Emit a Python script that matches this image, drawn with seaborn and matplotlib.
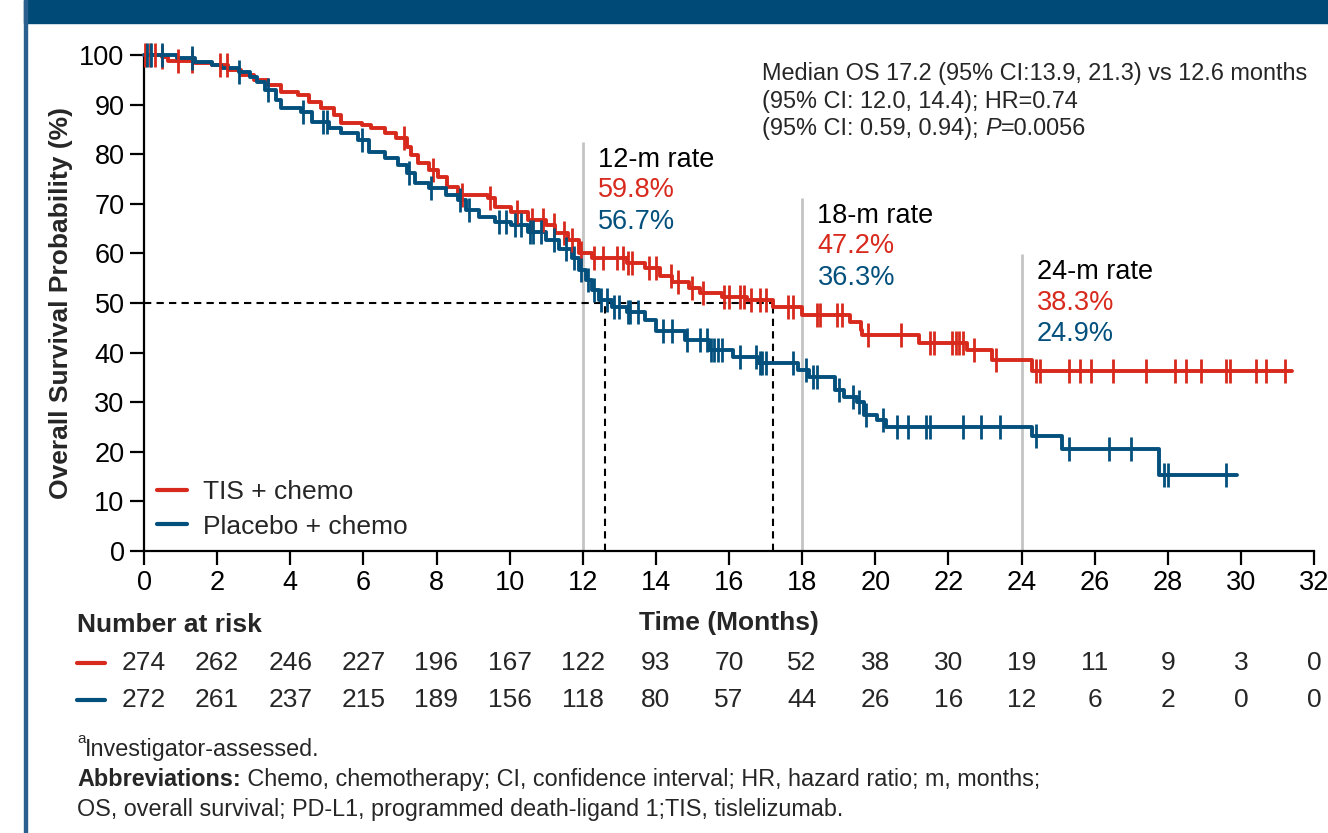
import numpy as np
import pandas as pd
import matplotlib
matplotlib.use("Agg")
import matplotlib.pyplot as plt
import matplotlib.transforms as mtransforms
from matplotlib.patches import Rectangle
from matplotlib.lines import Line2D
import seaborn as sns

# ---------------------------
# data
# ---------------------------
tis_time = [0, 0.5, 0.65, 1.4, 1.85, 2.3, 2.65, 3.0, 3.4, 3.75, 4.2, 4.5, 4.85, 5.2, 5.4,
            5.95, 6.2, 6.6, 6.9, 7.2, 7.3, 7.5, 7.8, 8.05, 8.3, 8.6, 9.4, 9.6, 10.05, 10.5,
            11.0, 11.25, 11.6, 11.9, 12.25, 13.2, 13.7, 14.1, 14.45, 14.9, 15.2, 15.8, 16.5,
            17.2, 18.0, 19.3, 19.6, 19.65, 21.2, 22.5, 23.2, 24.3]
tis_surv = [100, 99.6, 98.8, 98.4, 98.0, 97.0, 96.0, 95.0, 94.0, 92.5, 92.0, 90.5, 89.3, 87.9, 86.3,
            85.9, 85.3, 84.3, 83.3, 81.5, 79.8, 78.2, 76.8, 75.4, 73.4, 71.8, 71.2, 69.4, 68.3, 66.7,
            65.7, 64.1, 62.7, 60.0, 59.0, 58.0, 57.0, 55.4, 54.2, 53.0, 52.0, 51.3, 50.6,
            49.2, 47.6, 46.2, 44.6, 43.5, 42.0, 40.5, 38.5, 36.3]
tis_end = 31.4
tis_censor = [0.03, 0.16, 0.3, 0.5, 0.93, 1.3, 2.08, 2.27, 7.1, 7.9, 8.7, 9.45, 10.2, 10.6, 10.9,
              11.2, 11.5, 11.7, 11.95, 12.3, 12.55, 12.95, 13.1, 13.25, 13.35, 13.8, 14.0, 14.4,
              14.6, 15.0, 15.3, 15.85, 16.0, 16.3, 16.4, 16.6, 16.85, 17.0, 17.6, 17.75, 18.4,
              18.5, 18.95, 19.1, 19.8, 20.7, 21.5, 21.6, 22.1, 22.2, 22.3, 22.4, 22.7, 23.3,
              24.4, 24.5, 25.3, 25.6, 25.9, 26.5, 27.4, 28.2, 28.5, 28.9, 29.6, 29.7, 30.4,
              30.7, 31.2]

pbo_time = [0, 0.9, 1.4, 1.85, 2.1, 2.6, 2.9, 3.1, 3.3, 3.6, 3.75, 4.3, 4.6, 5.05, 5.4, 5.85,
            6.15, 6.6, 6.95, 7.2, 7.4, 7.8, 8.25, 8.6, 8.8, 9.15, 9.6, 10.05, 10.5, 11.0, 11.35,
            11.7, 11.9, 12.1, 12.25, 12.45, 12.8, 13.2, 13.7, 14.0, 14.8, 15.45, 16.1, 16.8,
            17.9, 18.2, 18.9, 19.15, 19.5, 19.7, 20.05, 20.3, 24.3, 25.1, 27.75]
pbo_surv = [100, 99.4, 98.6, 98.0, 97.4, 96.6, 95.6, 94.6, 93.0, 90.9, 89.3, 88.5, 86.5, 85.3,
            84.3, 82.9, 80.4, 79.2, 77.8, 76.2, 74.2, 73.2, 71.8, 70.8, 68.8, 67.3, 66.3, 65.7,
            64.3, 62.7, 60.8, 59.0, 56.7, 54.6, 52.6, 50.6, 49.2, 48.2, 46.6, 44.4, 42.5, 40.5,
            39.1, 37.9, 36.5, 35.0, 32.5, 31.0, 30.0, 27.4, 26.4, 25.0, 23.2, 20.6, 15.3]
pbo_end = 29.9
pbo_censor = [0.08, 0.2, 0.5, 1.3, 2.6, 3.4, 4.35, 4.9, 5.0, 5.95, 7.25, 7.85, 8.65, 8.9, 9.7,
              9.9, 10.15, 10.3, 10.55, 10.65, 10.85, 11.2, 11.55, 11.75, 11.95, 12.15, 12.3,
              12.5, 12.65, 12.85, 13.0, 13.25, 13.3, 13.5, 14.2, 14.45, 14.85, 15.2, 15.4,
              15.5, 15.6, 15.7, 15.8, 16.3, 16.75, 16.85, 16.9, 17.0, 17.75, 18.1, 18.3, 18.4,
              19.0, 19.4, 19.55, 19.75, 20.2, 20.6, 20.9, 21.4, 21.5, 22.4, 22.9, 23.4, 24.4,
              25.3, 26.4, 27.0, 27.9, 28.0, 29.6]

risk_times = list(range(0, 33, 2))
tis_risk = [274, 262, 246, 227, 196, 167, 122, 93, 70, 52, 38, 30, 19, 11, 9, 3, 0]
pbo_risk = [272, 261, 237, 215, 189, 156, 118, 80, 57, 44, 26, 16, 12, 6, 2, 0, 0]

landmarks = [12, 18, 24]
landmark_top = [82.5, 71.2, 59.9]
tis_rate = ["59.8%", "47.2%", "38.3%"]
pbo_rate = ["56.7%", "36.3%", "24.9%"]

median_tis = 17.2
median_pbo = 12.6

RED = "#D8291D"
BLUE = "#03507D"
NAVY = "#004A77"


def km_frame(times, surv, end):
    return pd.DataFrame({"t": list(times) + [end], "s": list(surv) + [surv[-1]]})


def censor_frame(times, surv, ctimes):
    idx = np.searchsorted(times, ctimes, side="right") - 1
    return pd.DataFrame({"t": ctimes, "s": np.array(surv)[idx]})


sns.set_theme(style="ticks")
plt.rcParams["font.family"] = ["Liberation Sans", "DejaVu Sans"]

fig = plt.figure(figsize=(13.28, 8.33), dpi=100)
ax = fig.add_axes([144 / 1328, 1 - 551 / 833, 1170 / 1328, 496 / 833])

# frame of the slide
fig.patches.append(Rectangle((24 / 1328, 1 - 23 / 833), 1, 23 / 833,
                             transform=fig.transFigure, color=NAVY, zorder=0))
fig.patches.append(Rectangle((24 / 1328, 0), 3 / 1328, 1,
                             transform=fig.transFigure, color="#2A5F8E", zorder=0))

# landmark lines + median lines
ax.vlines(landmarks, 0, landmark_top, color="#C4C4C4", lw=2, zorder=1)
ax.plot([0, median_tis], [50, 50], color="black", lw=1.5, ls=(0, (3.5, 2.5)), zorder=2)
ax.vlines([median_pbo, median_tis], 0, 50, color="black", lw=1.5, ls=(0, (3.5, 2.5)), zorder=2)

# curves
for times, surv, end, cens, col, lab in [
    (tis_time, tis_surv, tis_end, tis_censor, RED, "TIS + chemo"),
    (pbo_time, pbo_surv, pbo_end, pbo_censor, BLUE, "Placebo + chemo"),
]:
    sns.lineplot(data=km_frame(times, surv, end), x="t", y="s", drawstyle="steps-post",
                 color=col, lw=2.8, estimator=None, sort=False, ax=ax, label=lab,
                 clip_on=False, zorder=3)
    sns.scatterplot(data=censor_frame(times, surv, cens), x="t", y="s", marker="|",
                    s=320, color=col, linewidth=2.0, ax=ax, clip_on=False, zorder=4)

ax.set_xlim(0, 32)
ax.set_ylim(0, 100)
ax.set_xticks(range(0, 33, 2))
ax.set_yticks(range(0, 101, 10))
sns.despine(ax=ax)
for sp in ["left", "bottom"]:
    ax.spines[sp].set_linewidth(1.6)
    ax.spines[sp].set_color("black")
ax.tick_params(length=10, width=1.6, labelsize=19.5, colors="black", pad=4)

ax.set_ylabel("Overall Survival Probability (%)", fontsize=19, fontweight="bold")
ax.yaxis.set_label_coords(-0.061, 0.5)
ax.set_xlabel("Time (Months)", fontsize=19, fontweight="bold")
ax.xaxis.set_label_coords(0.5, -0.12)

leg = ax.legend(loc="lower left", bbox_to_anchor=(0.011, 0.025), frameon=False, fontsize=19,
                handlelength=1.15, handletextpad=0.6, labelspacing=0.4, borderpad=0,
                borderaxespad=0)
for h in leg.legend_handles:
    h.set_linewidth(3)

# landmark rate text
for t, top, r1, r2 in zip(landmarks, landmark_top, tis_rate, pbo_rate):
    x = t + 0.42
    ax.text(x, top - 3.6, f"{t}-m rate", fontsize=19.5, va="center", color="black")
    ax.text(x, top - 9.8, r1, fontsize=19.5, va="center", color=RED)
    ax.text(x, top - 16.2, r2, fontsize=19.5, va="center", color=BLUE)

fig.canvas.draw()
rend = fig.canvas.get_renderer()


def put_run(x, y, parts, size):
    for txt, kw in parts:
        t = fig.text(x, y, txt, fontsize=size, va="baseline", **kw)
        bb = t.get_window_extent(rend)
        x = bb.x1 / fig.bbox.width


# median OS box
mx = 762 / 1328
fig.text(mx, 1 - 80 / 833, "Median OS 17.2 (95% CI:13.9, 21.3) vs 12.6 months", fontsize=16.9,
         va="baseline")
fig.text(mx, 1 - 108 / 833, "(95% CI: 12.0, 14.4); HR=0.74", fontsize=16.9, va="baseline")
put_run(mx, 1 - 135 / 833, [("(95% CI: 0.59, 0.94); ", {}), ("P", {"style": "italic"}),
                            ("=0.0056", {})], 16.9)

# number at risk table
trans = mtransforms.blended_transform_factory(ax.transData, fig.transFigure)
fig.text(77 / 1328, 1 - 625 / 833, "Number at risk", fontsize=19, fontweight="bold",
         va="center")
for row_y, vals, col in [(1 - 663 / 833, tis_risk, RED), (1 - 700 / 833, pbo_risk, BLUE)]:
    fig.add_artist(Line2D([77 / 1328, 105 / 1328], [row_y, row_y], color=col, lw=3,
                          transform=fig.transFigure))
    for t, n in zip(risk_times, vals):
        ax.text(t, row_y, str(n), transform=trans, ha="center", va="center", fontsize=19)

# footnotes
fig.text(77 / 1328, 1 - 743 / 833, "a", fontsize=11, va="baseline")
fig.text(85 / 1328, 1 - 756 / 833, "Investigator-assessed.", fontsize=16.8, va="baseline")
put_run(77 / 1328, 1 - 786 / 833,
        [("Abbreviations:", {"fontweight": "bold"}),
         (" Chemo, chemotherapy; CI, confidence interval; HR, hazard ratio; m, months;", {})],
        16.8)
fig.text(77 / 1328, 1 - 816 / 833,
         "OS, overall survival; PD-L1, programmed death-ligand 1;TIS, tislelizumab.",
         fontsize=16.8, va="baseline")

fig.savefig("out.png", dpi=100)
